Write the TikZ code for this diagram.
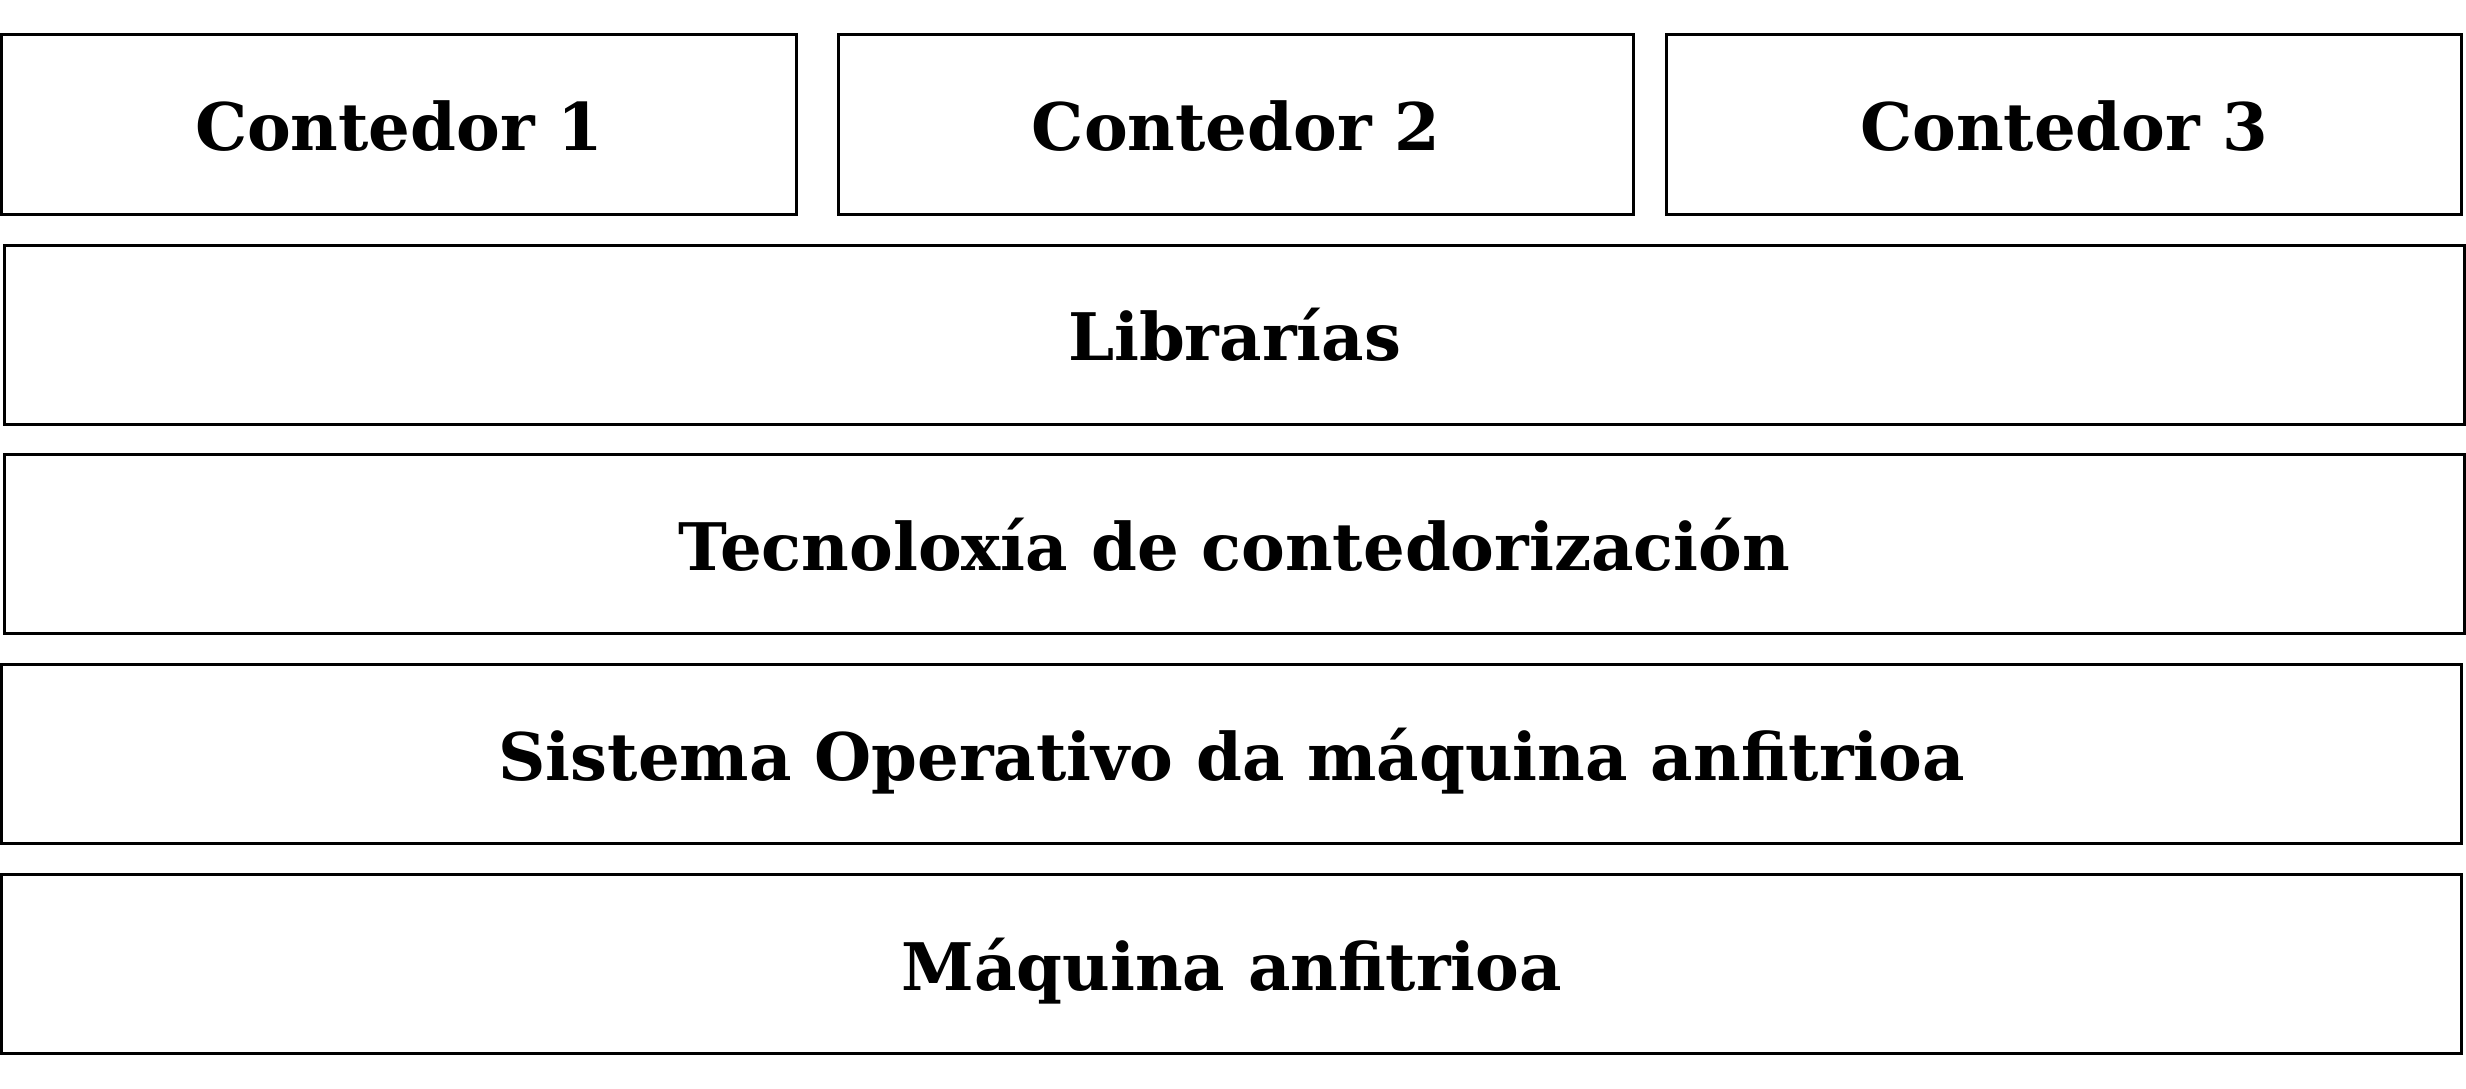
\documentclass[tikz,border=0pt]{standalone}
\usepackage{fontspec}
\setmainfont{DejaVu Serif}
\usepackage{tikz}
\usetikzlibrary{positioning}

\tikzset{
	capa/.style={draw, line width=3pt, inner sep=0pt, minimum height=179pt,
		text height=62pt, text depth=10pt,
		font=\fontsize{65.6}{78}\selectfont\bfseries},
	contedor/.style={capa, minimum width=795pt},
	ancha/.style={capa, minimum width=2460pt}
}

\begin{document}
\begin{tikzpicture}[x=1pt, y=-1pt]
		\useasboundingbox (0,0) rectangle (2466,1089);
		
		\node[contedor] (cont1) at (399.2,124.5) {Contedor 1};
		\node[contedor] (cont2) at (1236,124.5) {Contedor 2};
		\node[contedor] (cont3) at (2064.2,124.5) {Contedor 3};
		
		\node[ancha] (librarias) at (1234.5,334.7) {Librarías};
		\node[ancha] (tecno) at (1234.5,544.2) {Tecnoloxía de contedorización};
		\node[ancha] (so) at (1231.7,754.2) {Sistema Operativo da máquina anfitrioa};
		\node[ancha] (maquina) at (1231.7,964.3) {Máquina anfitrioa};
	\end{tikzpicture}
\end{document}
